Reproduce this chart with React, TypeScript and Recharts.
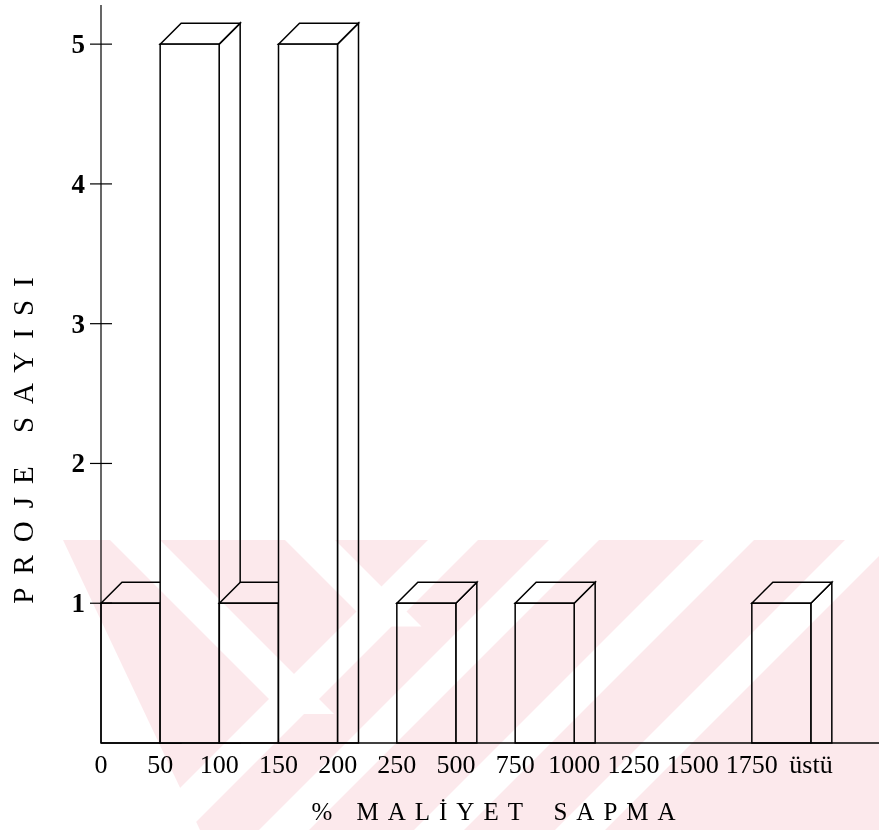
import React from 'react';
import { BarChart, Bar, XAxis, YAxis } from 'recharts';

// intervals of % cost deviation and number of projects in each
const intervals = ['0-50', '50-100', '100-150', '150-200', '200-250', '250-500', '500-750', '750-1000', '1000-1250', '1250-1500', '1500-1750', '1750-üstü'];
const projeSayisi = [1, 5, 1, 5, 0, 1, 0, 1, 0, 0, 0, 1];
const boundaryLabels = ['0', '50', '100', '150', '200', '250', '500', '750', '1000', '1250', '1500', '1750', 'üstü'];
const yTicks = [1, 2, 3, 4, 5];

const data = intervals.map((interval, i) => ({ interval, idx: i + 0.5, count: projeSayisi[i] }));
const boundaryTicks = boundaryLabels.map((_, i) => i);

const SERIF = "'Liberation Serif', 'Times New Roman', serif";
const DEPTH = 21;

// front face + top + right side, white filled so bars to the right hide the ones behind
const Box3D = (props: any) => {
  const { x, y, width, height, value } = props;
  if (!value) return <g />;
  const base = y + height;
  const r = x + width;
  return (
    <g stroke="#000" strokeWidth={1.5} fill="#fff" strokeLinejoin="miter">
      <polygon points={`${r},${y} ${r + DEPTH},${y - DEPTH} ${r + DEPTH},${base} ${r},${base}`} />
      <polygon points={`${x},${y} ${r},${y} ${r + DEPTH},${y - DEPTH} ${x + DEPTH},${y - DEPTH}`} />
      <rect x={x} y={y} width={width} height={height} />
    </g>
  );
};

const YTick = (props: any) => {
  const { x, y, payload } = props;
  return (
    <g>
      <line x1={x - 11} x2={x + 11} y1={y} y2={y} stroke="#000" strokeWidth={1.2} />
      <text x={x - 16} y={y} dy={9} textAnchor="end" fontFamily={SERIF} fontWeight="bold" fontSize={27} fill="#000">
        {payload.value}
      </text>
    </g>
  );
};

const XTitle = (props: any) => {
  const { viewBox } = props;
  const cx = viewBox.x + viewBox.width / 2 + 8;
  return (
    <text x={cx} y={820} textAnchor="middle" fontFamily={SERIF} fontSize={25} fill="#000" style={{ letterSpacing: 9 }}>
      {'% MALİYET\u2002SAPMA'}
    </text>
  );
};

const YTitle = () => (
  <text x={33} y={434} transform="rotate(-90, 33, 434)" textAnchor="middle" fontFamily={SERIF} fontSize={29} fill="#000" style={{ letterSpacing: 13 }}>
    PROJE SAYISI
  </text>
);

// faint pink scan watermark on the lower part of the page
const slash = [453, 574, 729, 870];
const backslash = [135, 310];
const Watermark = () => (
  <svg width={879} height={830} style={{ position: 'absolute', left: 0, top: 0, mixBlendMode: 'multiply', pointerEvents: 'none' }}>
    <defs>
      <mask id="wm">
        <rect width={879} height={830} fill="#000" />
        <polygon points="63,540 879,540 879,830 200,830" fill="#fff" />
        {slash.map((c) => (
          <polygon key={'s' + c} points={`${c - 25},540 ${c + 25},540 ${c - 265},830 ${c - 315},830`} fill="#000" />
        ))}
        {backslash.map((c) => {
          const t = (453 - c) / 2 + 15;
          return <polygon key={'b' + c} points={`${c - 25},540 ${c + 25},540 ${c + 25 + t},${540 + t} ${c - 25 + t},${540 + t}`} fill="#000" />;
        })}
      </mask>
    </defs>
    <rect width={879} height={830} fill="#fce9ec" mask="url(#wm)" />
  </svg>
);

const App = () => {
  return (
    <div style={{ position: 'absolute', left: 0, top: 0, width: 879, height: 830, background: '#fff' }}>
      <BarChart width={879} height={830} data={data} barCategoryGap={0} margin={{ top: 5, right: 0, left: 0, bottom: 0 }}>
        <XAxis xAxisId="cat" dataKey="interval" type="category" hide height={0} padding={{ left: 0, right: 68 }} />
        <XAxis
          xAxisId="ticks"
          dataKey="idx"
          type="number"
          domain={[0, 12]}
          ticks={boundaryTicks}
          interval={0}
          tickFormatter={(v) => boundaryLabels[v]}
          padding={{ left: 0, right: 68 }}
          height={87}
          tickLine={false}
          tickSize={0}
          tickMargin={12}
          axisLine={{ stroke: '#000', strokeWidth: 1.5 }}
          tick={{ fill: '#000', fontSize: 26, fontFamily: SERIF }}
          label={<XTitle />}
        />
        <YAxis
          width={101}
          domain={[0, 5.28]}
          ticks={yTicks}
          interval={0}
          tickLine={false}
          tickSize={0}
          tickMargin={0}
          axisLine={{ stroke: '#000', strokeWidth: 1.2 }}
          tick={<YTick />}
          label={<YTitle />}
        />
        <Bar xAxisId="cat" dataKey="count" shape={<Box3D />} isAnimationActive={false} />
      </BarChart>
      <Watermark />
    </div>
  );
};

export default App;
